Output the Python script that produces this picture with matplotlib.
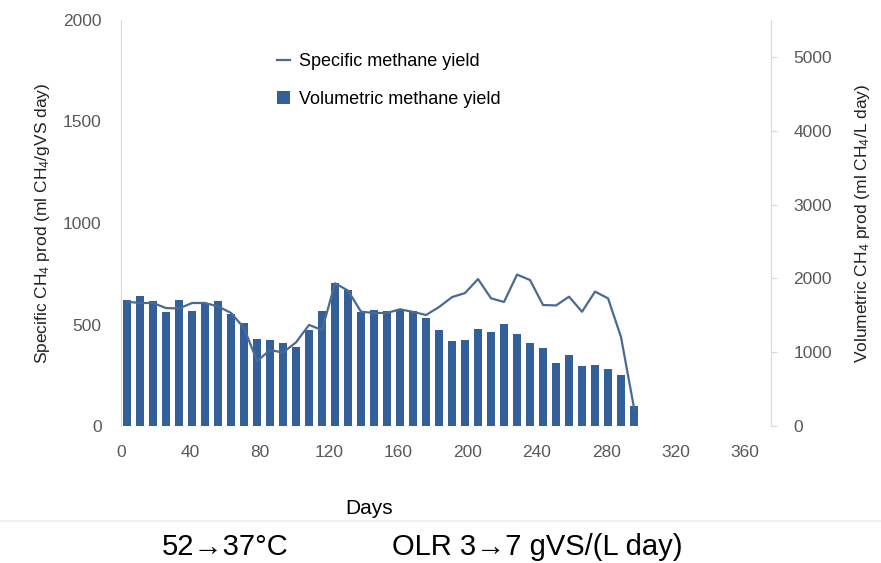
import matplotlib
matplotlib.use("Agg")
import matplotlib.pyplot as plt
from matplotlib.lines import Line2D

plt.rcParams['font.family'] = ['Liberation Sans', 'DejaVu Sans']
plt.rcParams['mathtext.fontset'] = 'custom'
plt.rcParams['mathtext.rm'] = 'Liberation Sans'
plt.rcParams['mathtext.default'] = 'regular'

# sampling days (about weekly)
days = [3.5, 11, 18.5, 26, 33.5, 41, 48.5, 56, 63.5, 71,
        78.5, 86, 93.5, 101, 108.5, 116, 123.5, 131, 138.5, 146,
        153.5, 161, 168.5, 176, 183.5, 191, 198.5, 206, 213.5, 221,
        228.5, 236, 243.5, 251, 258.5, 266, 273.5, 281, 288.5, 296]

# specific methane yield, ml CH4/gVS day (left axis)
specific = [612, 606, 606, 581, 579, 606, 606, 589, 557, 483,
            320, 374, 362, 412, 498, 473, 703, 667, 563, 557,
            557, 575, 562, 547, 586, 635, 655, 724, 629, 611,
            746, 719, 596, 594, 637, 563, 662, 629, 438, 89]

# volumetric methane yield, ml CH4/L day (right axis)
volumetric = [1707, 1761, 1693, 1545, 1703, 1558, 1649, 1693, 1514, 1401,
              1176, 1166, 1131, 1068, 1297, 1558, 1942, 1842, 1545, 1572,
              1558, 1591, 1558, 1459, 1297, 1153, 1166, 1311, 1280, 1378,
              1243, 1118, 1054, 851, 964, 815, 828, 770, 693, 266]

xticks = [0, 40, 80, 120, 160, 200, 240, 280, 320, 360]

tick_col = '#595959'
spine_col = '#d9d9d9'
bar_col = '#34609a'
line_col = '#4a6a96'

fig = plt.figure(figsize=(8.81, 5.63), dpi=100)
ax = fig.add_axes([0.1373, 0.2433, 0.7378, 0.7212])
ax2 = ax.twinx()

bars = ax2.bar(days, volumetric, width=4.6, color=bar_col, label='Volumetric methane yield')
line, = ax.plot(days, specific, color=line_col, lw=1.6, label='Specific methane yield')

ax.set_zorder(ax2.get_zorder() + 1)
ax.patch.set_visible(False)

ax.set_xlim(0, 375)
ax.set_ylim(0, 2000)
ax2.set_ylim(0, 5500)
ax.set_xticks(xticks)
ax.set_yticks([0, 500, 1000, 1500, 2000])
ax2.set_yticks([0, 1000, 2000, 3000, 4000, 5000])

for a in (ax, ax2):
    for s in ('top', 'bottom'):
        a.spines[s].set_visible(False)
    a.spines['left'].set_color(spine_col)
    a.spines['right'].set_color(spine_col)
ax.spines['right'].set_visible(False)
ax2.spines['left'].set_visible(False)

ax.tick_params(axis='x', length=0, labelsize=12.5, labelcolor=tick_col, pad=14)
ax.tick_params(axis='y', length=0, labelsize=12.5, labelcolor=tick_col, pad=14)
ax2.tick_params(axis='y', length=4, color=spine_col, labelsize=12.5, labelcolor=tick_col, pad=12)

ax.set_ylabel('Specific CH$_4$ prod (ml CH$_4$/gVS day)', fontsize=12.5, color='#222222', labelpad=8)
ax2.set_ylabel('Volumetric CH$_4$ prod (ml CH$_4$/L day)', fontsize=12.5, color='#222222', labelpad=15)

ax.legend([line, bars], ['Specific methane yield', 'Volumetric methane yield'],
          loc='upper left', bbox_to_anchor=(0.215, 0.958), frameon=False,
          fontsize=13, handlelength=0.7, handletextpad=0.5, labelspacing=1.15)

fig.text(369 / 881, 1 - 508 / 563, 'Days', fontsize=15, ha='center', va='center')
fig.add_artist(Line2D([0, 1], [1 - 521 / 563, 1 - 521 / 563], color='#eeeeee', lw=1.2))
fig.text(225 / 881, 1 - 547 / 563, '52→37°C', fontsize=21, ha='center', va='center')
fig.text(537 / 881, 1 - 547 / 563, 'OLR 3→7 gVS/(L day)', fontsize=21, ha='center', va='center')

fig.savefig('out.png', dpi=100)
